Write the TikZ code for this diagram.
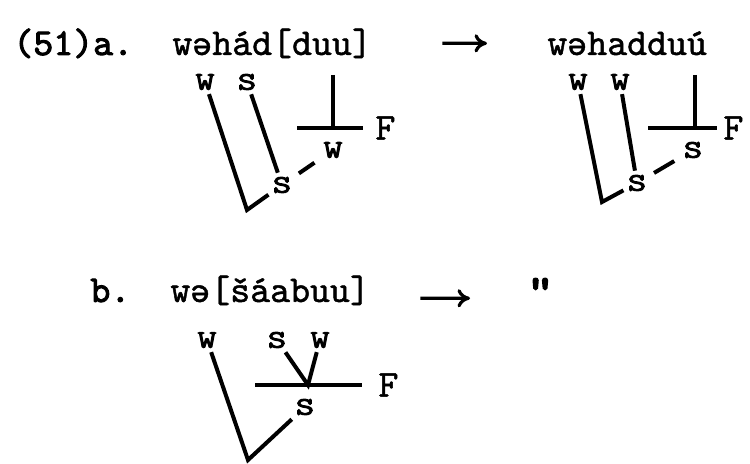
\documentclass[tikz,border=0pt]{standalone}
\usepackage{fontspec}
\newfontfamily\typ{lmmono10-regular.otf}[FakeBold=1.2]
\newfontfamily\numf{lmmono10-regular.otf}[FakeBold=2.5]
\newfontfamily\heavy{lmmono10-regular.otf}[FakeBold=4,FakeStretch=1.4]
\usetikzlibrary{arrows.meta,positioning}

\begin{document}
\begin{tikzpicture}[x=0.5pt,y=-0.5pt,
  word/.style={font=\typ\fontsize{19}{21}\selectfont,inner sep=0pt,anchor=base west},
  num/.style={word,font=\numf\fontsize{19}{21}\selectfont},
  lbl/.style={font=\heavy\fontsize{12.5}{12.5}\selectfont,inner sep=2pt},
  ft/.style={font=\typ\fontsize{19}{19}\selectfont,inner sep=0pt},
  ln/.style={line width=2pt},
  arr/.style={line width=1.6pt,-{To[length=2.2mm,width=3.2mm]}}]
\useasboundingbox (0,0) rectangle (750,464);
% (51) a.
\node[num] (exA) at (13,55) {(51)a.};
\node[word] (wA) at (172,55) {wəhád[duu]};
\node[word] (wA2) at (547,55) {wəhadduú};
\draw[arr,shorten <=35pt,shorten >=30pt] (wA) -- (wA2);
% left tree
\node[lbl] (w1) at (205,82) {W};
\node[lbl] (s1) at (247,82) {S};
\node[lbl] (s1b) at (282,185) {S};
\node[lbl] (w1b) at (333,150) {W};
\coordinate (c1) at (247,210);
\coordinate (t1) at (333,75);
\coordinate (b1l) at (297,128);
\coordinate (b1m) at (333,128);
\coordinate (b1r) at (363,128);
\node[ft,right=6pt of b1r] (f1) {F};
\draw[ln] (w1) -- (c1) -- (s1b);
\draw[ln] (s1) -- (s1b);
\draw[ln] (t1) -- (b1m);
\draw[ln] (b1l) -- (b1r);
\draw[ln,shorten <=2pt,shorten >=3pt] (s1b) -- (w1b);
% right tree
\node[lbl] (w2) at (578,82) {W};
\node[lbl] (w3) at (620,82) {W};
\node[lbl] (s2b) at (637,183) {S};
\node[lbl] (s2t) at (693,150) {S};
\coordinate (c2) at (602,202);
\coordinate (t2) at (695,75);
\coordinate (b2l) at (648,128);
\coordinate (b2m) at (695,128);
\coordinate (b2r) at (717,128);
\node[ft,right=3pt of b2r] (f2) {F};
\draw[ln] (w2) -- (c2) -- (s2b);
\draw[ln] (w3) -- (s2b);
\draw[ln] (t2) -- (b2m);
\draw[ln] (b2l) -- (b2r);
\draw[ln,shorten <=2pt,shorten >=3pt] (s2b) -- (s2t);
% b.
\node[num] (exB) at (90,302) {b.};
\node[word] (wB) at (170,302) {wə[šáabuu]};
\node[num,font=\heavy\fontsize{19}{21}\selectfont] (dit) at (526,302) {"};
\draw[arr,shorten <=25pt,shorten >=28pt] ([yshift=-4pt]wB.east) -- ([yshift=-4pt]dit.west);
\node[lbl] (w4) at (207,340) {W};
\node[lbl] (s4) at (277,340) {S};
\node[lbl] (w5) at (320,340) {W};
\node[lbl] (s4b) at (305,407) {S};
\coordinate (j4) at (308,385);
\coordinate (c4) at (248,460);
\coordinate (b4l) at (255,385);
\coordinate (b4r) at (362,385);
\node[ft,right=8pt of b4r] (f4) {F};
\draw[ln] (s4) -- (j4) -- (w5);
\draw[ln] (b4l) -- (b4r);
\draw[ln] (w4) -- (c4) -- (s4b);
\end{tikzpicture}
\end{document}
